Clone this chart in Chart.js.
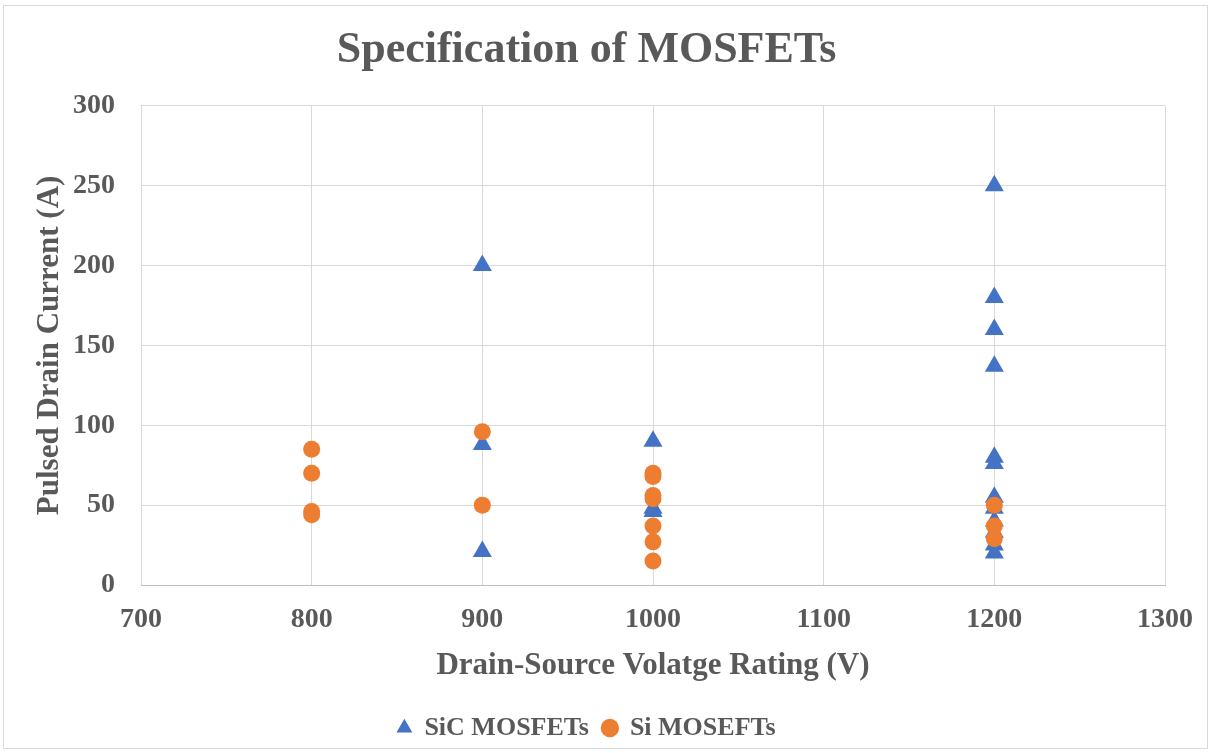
<!DOCTYPE html>
<html>
<head>
<meta charset="utf-8">
<script src="https://cdn.jsdelivr.net/npm/chart.js@4"></script>
<style>
  html, body { margin: 0; padding: 0; background: #ffffff; }
  #wrap { position: relative; width: 1211px; height: 753px; }
  #frame { position: absolute; left: 3px; top: 5px; width: 1203px; height: 742px; border: 1px solid #d9d9d9; pointer-events: none; }
  canvas { position: absolute; left: 0; top: 0; }
</style>
</head>
<body>
<div id="wrap">
  <canvas id="chart" width="1211" height="753"></canvas>
  <div id="frame"></div>
</div>
<script>
// ── Data ──────────────────────────────────────────────────
const sicVoltage = [900, 900, 900, 1000, 1000, 1000, 1200, 1200, 1200, 1200, 1200, 1200, 1200, 1200, 1200, 1200, 1200, 1200];
const sicCurrent = [200, 88, 21, 90, 48, 46, 250, 180, 160, 137, 80, 76, 55, 48, 40, 33, 25, 20];
const siVoltage = [800, 800, 800, 800, 900, 900, 1000, 1000, 1000, 1000, 1000, 1000, 1000, 1200, 1200, 1200];
const siCurrent = [85, 70, 46, 44, 96, 50, 70, 68, 56, 54, 37, 27, 15, 50, 37, 29];
const xTicks = [700, 800, 900, 1000, 1100, 1200, 1300];
const yTicks = [0, 50, 100, 150, 200, 250, 300];

const TEXT = "#595959";
const GRID = "#d9d9d9";
const FONT = "'Liberation Serif', 'Times New Roman', serif";

const toPoints = (xs, ys) => xs.map((x, i) => ({ x, y: ys[i] }));

// ── Chart ────────────────────────────────────────────────
new Chart(document.getElementById("chart"), {
  type: "scatter",
  data: {
    datasets: [
      {
        label: "SiC MOSFETs",
        data: toPoints(sicVoltage, sicCurrent),
        pointStyle: "triangle",
        pointRadius: 11,
        backgroundColor: "#4472c4",
        borderColor: "#4472c4",
        borderWidth: 0,
        order: 1
      },
      {
        label: "Si MOSEFTs",
        data: toPoints(siVoltage, siCurrent),
        pointStyle: "circle",
        pointRadius: 8.5,
        backgroundColor: "#ed7d31",
        borderColor: "#ed7d31",
        borderWidth: 0,
        order: 0
      }
    ]
  },
  options: {
    responsive: false,
    animation: false,
    layout: { padding: { left: 0, right: 38, top: 0, bottom: 2 } },
    plugins: {
      tooltip: { enabled: false },
      title: {
        display: true,
        text: "Specification of MOSFETs",
        color: TEXT,
        font: { family: FONT, size: 44, weight: "bold" },
        padding: { top: 24, bottom: 29 }
      },
      legend: {
        position: "bottom",
        labels: {
          usePointStyle: true,
          boxWidth: 14,
          boxHeight: 13,
          padding: 14,
          color: TEXT,
          font: { family: FONT, size: 26, weight: "bold" },
          sort: (a, b) => a.datasetIndex - b.datasetIndex
        }
      }
    },
    scales: {
      x: {
        type: "linear",
        min: 700,
        max: 1300,
        afterBuildTicks: (s) => { s.ticks = xTicks.map((v) => ({ value: v })); },
        afterFit: (s) => { s.height = 116; },
        grid: { color: GRID, drawTicks: false },
        border: { color: "#bfbfbf" },
        ticks: { color: TEXT, padding: 18, font: { family: FONT, size: 28, weight: "bold" }, callback: (v) => String(v) },
        title: {
          display: true,
          text: "Drain-Source Volatge Rating (V)",
          color: TEXT,
          font: { family: FONT, size: 31, weight: "bold" },
          padding: { top: 0, bottom: 16 }
        }
      },
      y: {
        min: 0,
        max: 300,
        afterBuildTicks: (s) => { s.ticks = yTicks.map((v) => ({ value: v })); },
        afterFit: (s) => { s.width = 141; },
        grid: { color: GRID, drawTicks: false },
        border: { display: false },
        ticks: { color: TEXT, padding: 26, font: { family: FONT, size: 28, weight: "bold" }, callback: (v) => String(v) },
        title: {
          display: true,
          text: "Pulsed Drain Current (A)",
          color: TEXT,
          font: { family: FONT, size: 31, weight: "bold" },
          padding: { top: 31, bottom: 0 }
        }
      }
    }
  }
});
</script>
</body>
</html>
